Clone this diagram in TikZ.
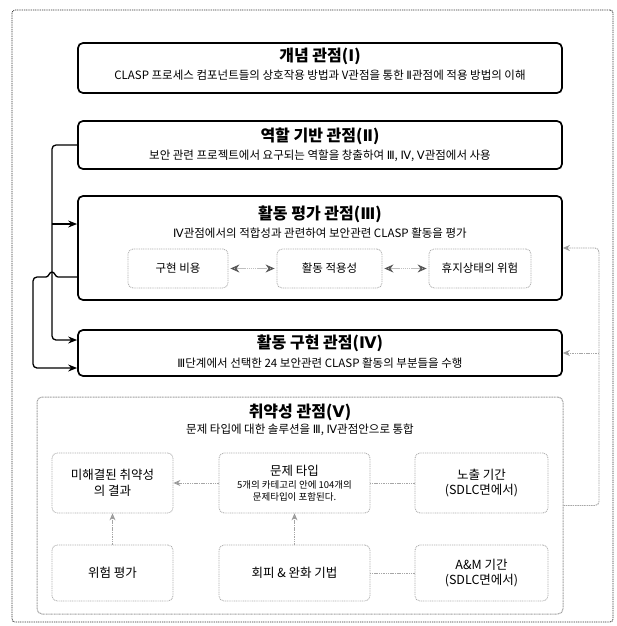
\documentclass[tikz,border=0pt]{standalone}
\usepackage{fontspec}
\setmainfont{Noto Sans CJK KR}
\newfontfamily\rnfont{DejaVu Sans}
\newcommand\RN[1]{{\rnfont #1}}
\usetikzlibrary{arrows.meta}
\begin{document}
\begin{tikzpicture}[x=1pt,y=-1pt,
  bigbox/.style={draw=black, line width=1.7pt, rounded corners=5pt, minimum width=484pt, inner sep=0pt},
  vbox/.style={draw=gray!75, dash pattern=on 1pt off 0.6pt, line width=1pt, rounded corners=5pt, inner sep=0pt},
  inbox/.style={draw=gray!65, dash pattern=on 1pt off 0.8pt, line width=0.8pt, rounded corners=5pt, inner sep=0pt, align=center, font=\fontsize{11.5}{14.5}\selectfont},
  frame/.style={draw=black!80, dash pattern=on 1pt off 0.8pt, line width=0.8pt, rounded corners=3pt, inner sep=0pt},
  ttl/.style={inner sep=0pt, font=\fontsize{16}{18}\selectfont\bfseries},
  sub/.style={inner sep=0pt, font=\fontsize{11.5}{13}\selectfont},
  blk/.style={draw=black, line width=1.3pt},
  gry/.style={draw=gray!70, dash pattern=on 1.5pt off 0.8pt, line width=0.9pt},
  dgry/.style={draw=gray!50, dash pattern=on 1.5pt off 0.6pt, line width=1.2pt},
  blkarr/.style={-{Stealth[length=9pt,width=7pt]}},
  opnarr/.style={-{Stealth[length=9pt,width=7pt,fill=gray!35]}},
  gryarr/.style={-{Stealth[length=7pt,width=6pt,color=gray!80,fill=gray!30]}},
  dblarr/.style={{Stealth[length=9pt,width=8pt,color=black!65,fill=gray!45]}-{Stealth[length=9pt,width=8pt,color=black!65,fill=gray!45]}}
]
\useasboundingbox (0,0) rectangle (616,626);
\node[frame, minimum width=601pt, minimum height=612pt] (frame) at (312.5,316) {};

% Box I
\node[bigbox, minimum height=50pt] (I) at (320,68) {};
\node[ttl] (It) at (320,56) {개념 관점(\RN{Ⅰ})};
\node[sub] (Is) at (320,75) {CLASP 프로세스 컴포넌트들의 상호작용 방법과 V관점을 통한 \RN{Ⅱ}관점에 적용 방법의 이해};

% Box II
\node[bigbox, minimum height=48pt] (II) at (320,145) {};
\node[ttl] (IIt) at (320,136) {역할 기반 관점(\RN{Ⅱ})};
\node[sub] (IIs) at (320,156) {보안 관련 프로젝트에서 요구되는 역할을 창출하여 \RN{Ⅲ}, \RN{Ⅳ}, \RN{Ⅴ}관점에서 사용};

% Box III
\node[bigbox, minimum height=104pt] (III) at (320,248) {};
\node[ttl] (IIIt) at (320,214) {활동 평가 관점(\RN{Ⅲ})};
\node[sub] (IIIs) at (320,233) {\RN{Ⅳ}관점에서의 적합성과 관련하여 보안관련 CLASP 활동을 평가};
\node[inbox, minimum width=100pt, minimum height=39pt] (cost) at (178,268.5) {구현 비용};
\node[inbox, minimum width=105pt, minimum height=39pt] (appl) at (329.5,268.5) {활동 적용성};
\node[inbox, minimum width=102pt, minimum height=39pt] (risk) at (480,268.5) {휴지상태의 위험};
\draw[dgry, dblarr, shorten <=2pt, shorten >=2pt] (cost) -- (appl);
\draw[dgry, dblarr, shorten <=2pt, shorten >=2pt] (appl) -- (risk);

% Box IV
\node[bigbox, minimum height=46pt] (IV) at (320,353) {};
\node[ttl] (IVt) at (320,343) {활동 구현 관점(\RN{Ⅳ})};
\node[sub] (IVs) at (320,363) {\RN{Ⅲ}단계에서 선택한 24 보안관련 CLASP 활동의 부분들을 수행};

% Box V
\node[vbox, minimum width=526pt, minimum height=217pt] (V) at (300,505.5) {};
\node[ttl] (Vt) at (300,412) {취약성 관점(\RN{Ⅴ})};
\node[sub] (Vs) at (300,430) {문제 타입에 대한 솔루션을 \RN{Ⅲ}, \RN{Ⅳ}관점안으로 통합};

\node[inbox, minimum width=121pt, minimum height=60pt, font=\fontsize{12.5}{15.5}\selectfont] (unres) at (112.5,483) {미해결된 취약성\\의 결과};
\node[inbox, minimum width=151pt, minimum height=60pt, font=\fontsize{12.5}{15.5}\selectfont] (ptype) at (294.5,483) {문제 타입\\[-2pt]{\fontsize{9.5}{11}\selectfont 5개의 카테고리 안에 104개의}\\[-4pt]{\fontsize{9.5}{11}\selectfont 문제타입이 포함된다.}};
\node[inbox, minimum width=133pt, minimum height=60pt, font=\fontsize{12.5}{15.5}\selectfont] (expo) at (481.5,483) {노출 기간\\(SDLC면에서)};
\node[inbox, minimum width=121pt, minimum height=56pt, font=\fontsize{12.5}{15.5}\selectfont] (reval) at (112.5,573) {위험 평가};
\node[inbox, minimum width=151pt, minimum height=56pt, font=\fontsize{12.5}{15.5}\selectfont] (avoid) at (294.5,573) {회피 \& 완화 기법};
\node[inbox, minimum width=133pt, minimum height=56pt, font=\fontsize{12.5}{15.5}\selectfont] (amp) at (481.5,573) {A\&M 기간\\(SDLC면에서)};

\draw[gry, gryarr] (ptype) -- (unres);
\draw[gry] (expo) -- (ptype);
\draw[gry, gryarr] (reval) -- (unres);
\draw[gry, gryarr] (avoid) -- (ptype);
\draw[gry] (amp) -- (avoid);

% left connectors
\coordinate (LB) at (52,224);
\draw[blk, blkarr, rounded corners=4pt] (II.west) -| (52,340) -- ([yshift=13pt]IV.west);
\draw[blk, blkarr] (LB) -- ([yshift=24pt]III.west);
\coordinate (H1) at (46,277);
\draw[blk] ([yshift=-29pt]III.west) -- (58,277) .. controls (55,277) and (55,272) .. (52,272) .. controls (49,272) and (49,277) .. (H1);
\draw[blk, opnarr, rounded corners=4pt] (H1) -- (33,277) |- ([yshift=-15pt]IV.west);

% right connectors
\coordinate (RB) at (599,353);
\draw[gry, gryarr, rounded corners=4pt] (V.east) -| (599,248) -- (III.east);
\draw[gry, gryarr] (RB) -- (IV.east);
\end{tikzpicture}
\end{document}
